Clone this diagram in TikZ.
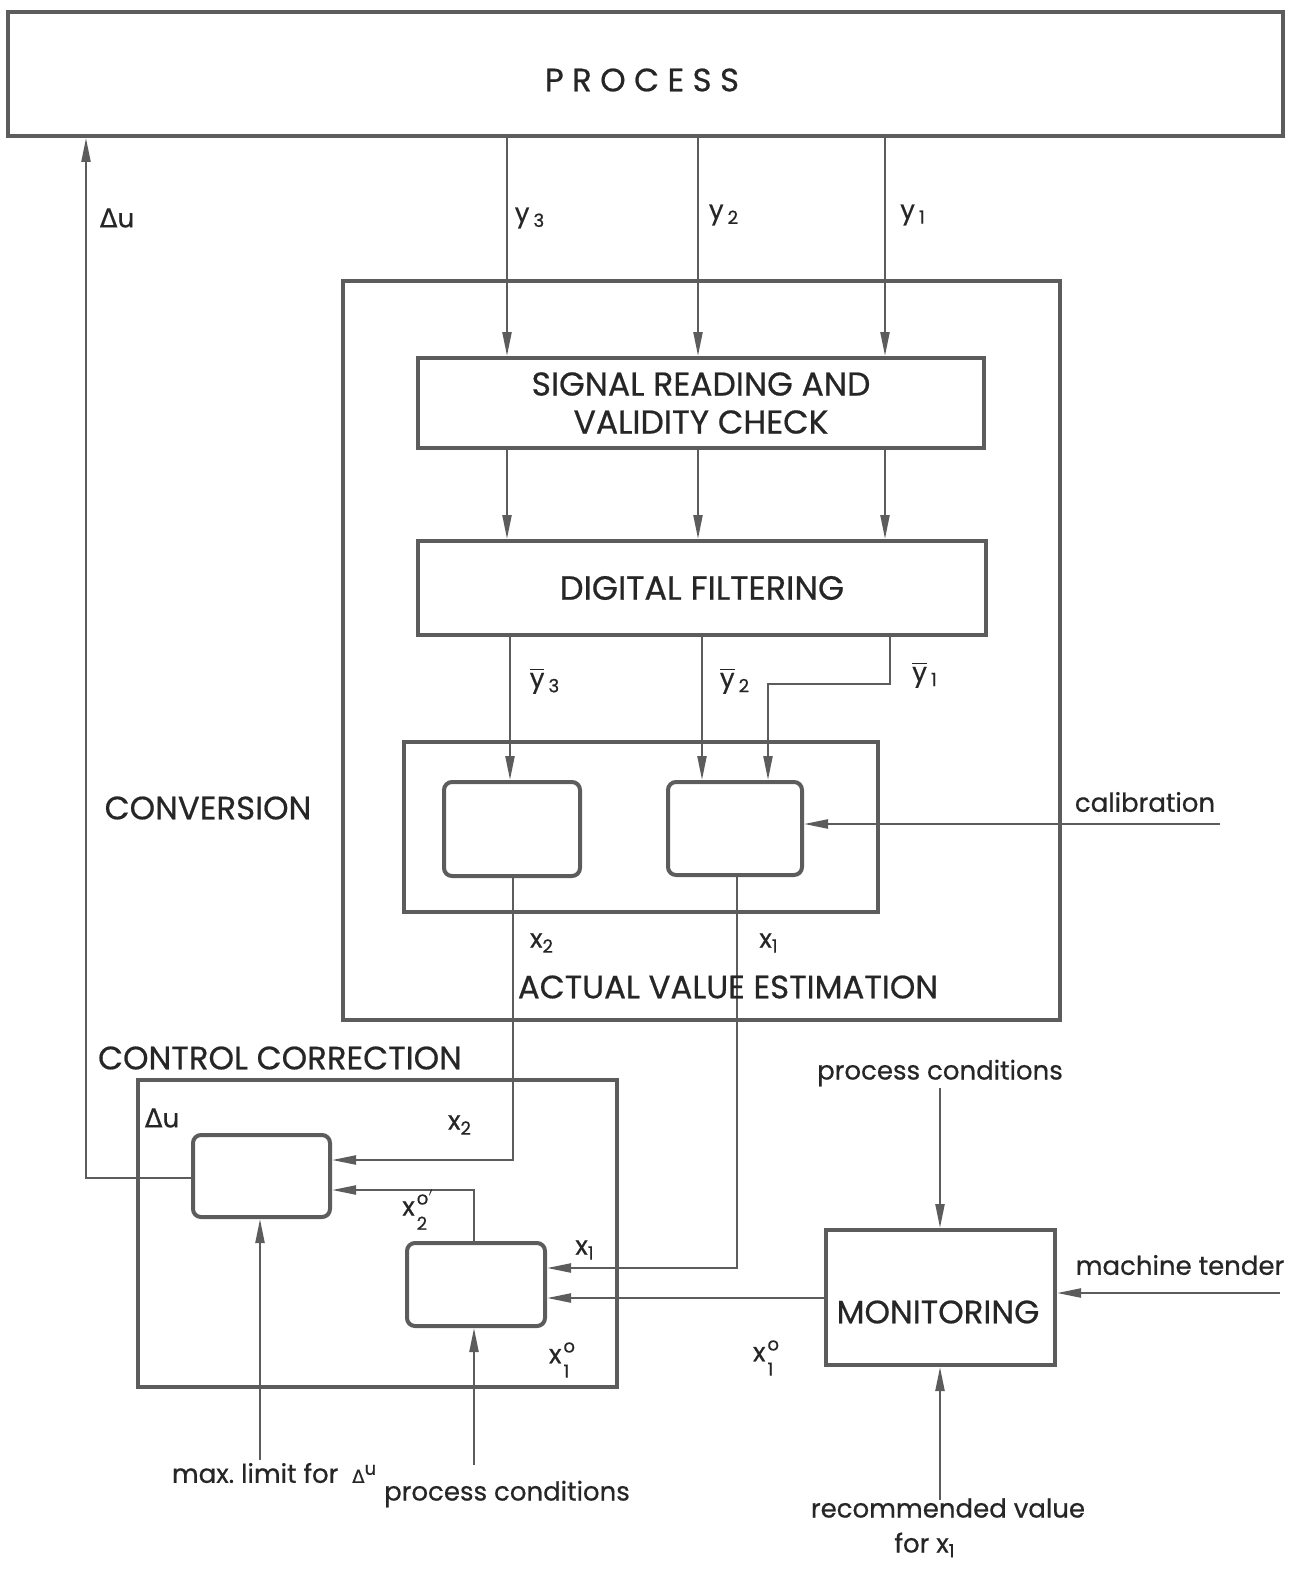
\documentclass[tikz,border=0pt]{standalone}
\usepackage{fontspec}
\usepackage{amsmath}
\setmainfont{Poppins}[FakeBold=0.6]
\newfontfamily\dv{DejaVu Sans}[FakeBold=0.4]
\usetikzlibrary{arrows.meta}
\definecolor{lc}{gray}{0.36}
\definecolor{tc}{gray}{0.15}
\newcommand\sbsp[3]{#1\kern1pt\raisebox{-0.55em}{\shortstack[l]{\fontsize{9}{8}\selectfont #3\\[3pt]\fontsize{9}{8}\selectfont #2}}}
\newcommand\ybar[1]{$\overline{\text{y}}\,_{\text{#1}}$}
\tikzset{
  box/.style={draw=lc, line width=2pt, rectangle, inner sep=0pt, text=tc, align=center},
  rbox/.style={box, rounded corners=4pt},
  conn/.style={draw=lc, line width=1.1pt},
  arr/.style={-{Triangle[length=12pt,width=4.5pt]}},
  lbl/.style={text=tc, inner sep=1pt, font=\fontsize{13}{15}\selectfont},
  captext/.style={text=tc, inner sep=1pt, font=\fontsize{16.2}{19}\selectfont, align=center},
}
\begin{document}
\begin{tikzpicture}[x=0.5pt,y=-0.5pt]
\useasboundingbox (0,0) rectangle (1299,1573);
% boxes
\node[box, minimum width=637.5pt, minimum height=62pt] (proc) at (645.5,74) {};
\node[captext] (proctext) at (642,80) {P\hspace{0.26em}R\hspace{0.26em}O\hspace{0.26em}C\hspace{0.26em}E\hspace{0.26em}S\hspace{0.26em}S};
\node[box, minimum width=358.5pt, minimum height=369.5pt] (conv) at (701.5,650.5) {};
\node[box, minimum width=283pt, minimum height=45pt, font=\fontsize{16.5}{19}\selectfont] (srvc) at (701,403) {SIGNAL READING AND\\VALIDITY CHECK};
\node[box, minimum width=284pt, minimum height=47pt, font=\fontsize{16.8}{19}\selectfont] (df) at (702,588) {DIGITAL FILTERING};
\node[box, minimum width=237pt, minimum height=85pt] (ave) at (641,827) {};
\node[rbox, minimum width=68pt, minimum height=47pt] (eL) at (512,829) {};
\node[rbox, minimum width=67pt, minimum height=46.5pt] (eR) at (735,828.5) {};
\node[box, minimum width=239.5pt, minimum height=153.5pt] (cc) at (377.5,1233.5) {};
\node[rbox, minimum width=68.5pt, minimum height=41pt] (cU) at (261.5,1176) {};
\node[rbox, minimum width=69pt, minimum height=41.5pt] (cL) at (476,1284.5) {};
\node[box, minimum width=114.5pt, minimum height=67.5pt] (mon) at (940.5,1297.5) {};
\node[captext] (montext) at (938,1312) {MONITORING};
% coordinates
\coordinate (X3) at (507,0);
\coordinate (X2) at (698,0);
\coordinate (X1) at (885,0);
\coordinate (B3) at (510,0);
\coordinate (B2) at (702,0);
\coordinate (B1) at (890,0);
\coordinate (B1b) at (768,684);
\coordinate (cal) at (1220,824);
\coordinate (x2c) at (513,1160);
\coordinate (x1c) at (737,1268);
\coordinate (x20c) at (474,1190);
\coordinate (duc) at (86,1178);
\coordinate (mlc) at (260,1460);
\coordinate (pcc) at (474,1465);
\coordinate (m0) at (0,1298);
\coordinate (pct) at (940,1088);
\coordinate (mt) at (1280,1293);
\coordinate (rv) at (940,1500);
% connectors
\draw[conn,arr] (proc.south -| X3) -- (srvc.north -| X3);
\draw[conn,arr] (proc.south -| X2) -- (srvc.north -| X2);
\draw[conn,arr] (proc.south -| X1) -- (srvc.north -| X1);
\draw[conn,arr] (srvc.south -| X3) -- (df.north -| X3);
\draw[conn,arr] (srvc.south -| X2) -- (df.north -| X2);
\draw[conn,arr] (srvc.south -| X1) -- (df.north -| X1);
\draw[conn,arr] (df.south -| B3) -- (eL.north -| B3);
\draw[conn,arr] (df.south -| B2) -- (eR.north -| B2);
\draw[conn,arr] (df.south -| B1) |- (B1b) -- (eR.north -| B1b);
\draw[conn,arr] (cal) -- (eR.east |- cal);
\draw[conn,arr] (eL.south -| x2c) -- (x2c) -- (cU.east |- x2c);
\draw[conn,arr] (eR.south -| x1c) -- (x1c) -- (cL.east |- x1c);
\draw[conn,arr] (cL.north -| x20c) -- (x20c) -- (cU.east |- x20c);
\draw[conn,arr] (cU.west |- duc) -- (duc) -- (proc.south -| duc);
\draw[conn,arr] (mlc) -- (cU.south -| mlc);
\draw[conn,arr] (pcc) -- (cL.south -| pcc);
\draw[conn,arr] (mon.west |- m0) -- (cL.east |- m0);
\draw[conn,arr] (pct) -- (mon.north -| pct);
\draw[conn,arr] (mt) -- (mon.east |- mt);
\draw[conn,arr] (rv) -- (mon.south -| rv);
% labels
\node[lbl] (ldu) at (117,218) {{\dv Δ}u};
\node[lbl] (ly3) at (530,218) {$\text{y}\,_{\text{3}}$};
\node[lbl] (ly2) at (724,215) {$\text{y}\,_{\text{2}}$};
\node[lbl] (ly1) at (913,215) {$\text{y}\,_{\text{1}}$};
\node[lbl] (lb3) at (545,681) {\ybar{3}};
\node[lbl] (lb2) at (735,681) {\ybar{2}};
\node[lbl] (lb1) at (925,675) {\ybar{1}};
\node[captext] (lconv) at (208,808) {CONVERSION};
\node[lbl] (lcal) at (1145,802) {calibration};
\node[lbl] (lx2a) at (542,943) {$\text{x}_{\text{2}}$};
\node[lbl] (lx1a) at (769,943) {$\text{x}_{\text{1}}$};
\node[captext] (lave) at (728,987) {ACTUAL VALUE ESTIMATION};
\node[captext] (lcc) at (280,1058) {CONTROL CORRECTION};
\node[lbl] (ldu2) at (162,1118) {{\dv Δ}u};
\node[lbl] (lx2b) at (460,1125) {$\text{x}_{\text{2}}$};
\node[lbl] (lx20) at (418,1210) {\sbsp{x}{2}{o$'$}};
\node[lbl] (lx1b) at (585,1250) {$\text{x}_{\text{1}}$};
\node[lbl] (lx10a) at (562,1360) {\sbsp{x}{1}{o}};
\node[lbl] (lx10b) at (766,1358) {\sbsp{x}{1}{o}};
\node[lbl] (lpct) at (940,1073) {process conditions};
\node[lbl] (lmt) at (1180,1265) {machine tender};
\node[lbl] (lml) at (274,1473) {max.\ limit for \ {\dv\small Δ}\raisebox{4pt}{\small u}};
\node[lbl] (lpcc) at (507,1494) {process conditions};
\node[lbl] (lrv) at (948,1508) {recommended value};
\node[lbl] (lfor) at (925,1545) {for $\text{x}_{\text{1}}$};
\end{tikzpicture}
\end{document}
